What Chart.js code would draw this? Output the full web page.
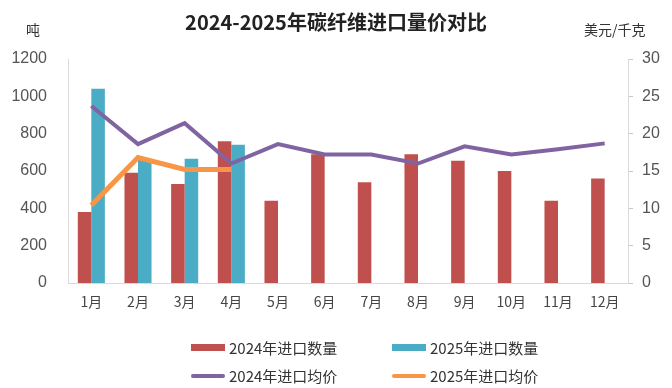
<!DOCTYPE html>
<html><head><meta charset="utf-8">
<script src="https://cdn.jsdelivr.net/npm/chart.js@4/dist/chart.umd.min.js"></script>
<style>
html,body{margin:0;padding:0;background:#fff;}
#wrap{position:relative;width:672px;height:388px;overflow:hidden;font-family:"Noto Sans CJK SC","Liberation Sans",sans-serif;}
canvas{position:absolute;left:0;top:0;}
.t{position:absolute;white-space:nowrap;color:#333;}
.lg{position:absolute;display:flex;align-items:center;font-size:15px;color:#333;white-space:nowrap;}
.sw{width:34px;margin-right:4px;}
</style></head>
<body><div id="wrap">
<canvas id="c" width="672" height="388"></canvas>
<div class="t" style="left:0;width:672px;top:7px;text-align:center;font-size:20px;font-weight:bold;color:#222;">2024-2025年碳纤维进口量价对比</div>
<div class="t" style="left:26px;top:19px;font-size:14px;">吨</div>
<div class="t" style="left:584px;top:19px;font-size:14px;">美元/千克</div>
<div class="lg" style="left:191px;top:337px;"><div class="sw" style="height:7px;background:#c0504d;"></div>2024年进口数量</div>
<div class="lg" style="left:392px;top:337px;"><div class="sw" style="height:7px;background:#4bacc6;"></div>2025年进口数量</div>
<div class="lg" style="left:191px;top:365px;"><div class="sw" style="height:4px;border-radius:2px;background:#8064a2;"></div>2024年进口均价</div>
<div class="lg" style="left:392px;top:365px;"><div class="sw" style="height:4px;border-radius:2px;background:#f79646;"></div>2025年进口均价</div>
</div>
<script>
const months = ["1月","2月","3月","4月","5月","6月","7月","8月","9月","10月","11月","12月"];
const qty2024 = [380, 590, 530, 760, 440, 690, 540, 690, 655, 600, 440, 560];
const qty2025 = [1040, 660, 665, 740, null, null, null, null, null, null, null, null];
const price2024 = [23.7, 18.6, 21.4, 16.0, 18.6, 17.2, 17.2, 16.0, 18.3, 17.2, 17.9, 18.7];
const price2025 = [10.4, 16.8, 15.2, 15.2, null, null, null, null, null, null, null, null];
const leftTicks = [0, 200, 400, 600, 800, 1000, 1200];
const rightTicks = [0, 5, 10, 15, 20, 25, 30];

const tickFont = {family: "Liberation Sans", size: 16};
new Chart(document.getElementById('c'), {
  data: {
    labels: months,
    datasets: [
      {type:'line', label:'2024年进口均价', data: price2024, yAxisID:'y1', borderColor:'#8064a2', borderWidth:4, pointRadius:0, tension:0, order:0},
      {type:'line', label:'2025年进口均价', data: price2025, yAxisID:'y1', borderColor:'#f79646', borderWidth:5, pointRadius:0, tension:0, order:0},
      {type:'bar', label:'2024年进口数量', data: qty2024, yAxisID:'y', backgroundColor:'#c0504d', categoryPercentage:0.58, barPercentage:1.0, order:1},
      {type:'bar', label:'2025年进口数量', data: qty2025, yAxisID:'y', backgroundColor:'#4bacc6', categoryPercentage:0.58, barPercentage:1.0, order:1}
    ]
  },
  options: {
    responsive:false, animation:false,
    layout:{padding:{top:59, left:0, right:0, bottom:0}},
    plugins:{legend:{display:false}, tooltip:{enabled:false}},
    scales:{
      x:{
        grid:{display:false, drawTicks:false},
        border:{display:true, color:'#d9d9d9', width:1},
        ticks:{font:{family:"Noto Sans CJK SC", size:14}, color:'#444', padding:10, maxRotation:0, autoSkip:false},
        afterFit(s){ s.height = 105; }
      },
      y:{
        position:'left', min:0, max:1200,
        afterBuildTicks(s){ s.ticks = leftTicks.map(v=>({value:v})); },
        grid:{display:false, drawTicks:false},
        border:{display:true, color:'#d9d9d9', width:1},
        ticks:{font:tickFont, color:'#555', padding:21, callback:(v)=>String(v)},
        afterFit(s){ s.width = 68; }
      },
      y1:{
        position:'right', min:0, max:30,
        afterBuildTicks(s){ s.ticks = rightTicks.map(v=>({value:v})); },
        grid:{drawOnChartArea:false, drawTicks:true, tickLength:5, color:'#c8c8c8'},
        border:{display:true, color:'#d9d9d9', width:1},
        ticks:{font:tickFont, color:'#555', padding:9, callback:(v)=>String(v)},
        afterFit(s){ s.width = 44; }
      }
    }
  }
});
</script>
</body></html>
